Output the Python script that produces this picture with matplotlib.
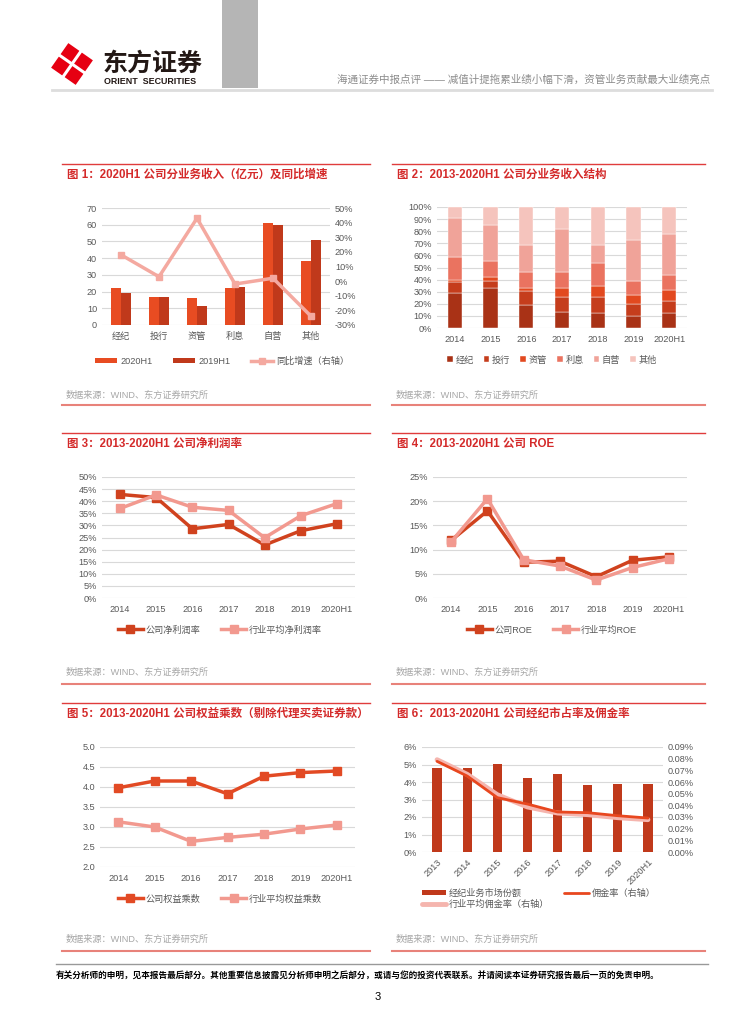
import matplotlib
matplotlib.use('Agg')
import matplotlib.pyplot as plt
import numpy as np
from matplotlib.patches import Rectangle, Polygon
from matplotlib.lines import Line2D
from matplotlib.ticker import PercentFormatter, FormatStrFormatter

plt.rcParams['font.family'] = ['Liberation Sans', 'Noto Sans CJK SC', 'DejaVu Sans']
plt.rcParams['axes.unicode_minus'] = False

W, H = 755, 1024

# ---- 数据 ----
biz = ['经纪', '投行', '资管', '利息', '自营', '其他']
rev_2020h1 = [22, 17, 16, 22, 61, 38.5]
rev_2019h1 = [19, 16.5, 11.5, 22.5, 60, 51]
yoy = [18, 3, 43, -2, 2, -24]

years = ['2014', '2015', '2016', '2017', '2018', '2019', '2020H1']
share_jingji = [29, 33, 19, 13.5, 12, 10, 12]
share_touhang = [9, 6, 11.5, 12, 14, 10, 10]
share_ziguan = [2, 3.5, 2.5, 7.5, 8.5, 7, 9]
share_lixi = [18.5, 12.5, 13.5, 13, 19.5, 12, 12.5]
share_ziying = [32.5, 30, 22.5, 35.5, 15, 34, 34.5]
share_qita = [9, 15, 31, 18.5, 31, 27, 22]

margin_co = [42.8, 41.5, 28.6, 30.4, 21.9, 27.8, 30.7]
margin_ind = [37.0, 42.6, 37.5, 36.2, 24.9, 34.0, 39.0]

roe_co = [11.9, 18.0, 7.4, 7.6, 4.4, 7.8, 8.5]
roe_ind = [11.6, 20.5, 7.9, 6.6, 3.7, 6.3, 8.1]

lev_co = [3.98, 4.15, 4.15, 3.83, 4.27, 4.36, 4.40]
lev_ind = [3.13, 3.00, 2.64, 2.74, 2.82, 2.95, 3.05]

years6 = ['2013', '2014', '2015', '2016', '2017', '2018', '2019', '2020H1']
mkt_share = [4.8, 4.8, 5.05, 4.25, 4.44, 3.85, 3.88, 3.87]
comm_co = [0.0777, 0.0651, 0.0466, 0.0411, 0.0343, 0.0337, 0.0311, 0.0291]
comm_ind = [0.0791, 0.0666, 0.0491, 0.0386, 0.0334, 0.0320, 0.0294, 0.0277]

RED_TITLE = '#D42A2A'
C_DARK = '#D0421E'
C_LIGHT = '#F2998F'
TICK_C = '#595959'
FS = 6.6


def rect(l, t, r, b):
    return [l / W, 1 - b / H, (r - l) / W, (b - t) / H]


def hline(x0, x1, y, color, lw):
    fig.add_artist(Line2D([x0 / W, x1 / W], [1 - y / H, 1 - y / H],
                          transform=fig.transFigure, color=color, lw=lw))


def style(ax):
    for s in ax.spines.values():
        s.set_visible(False)
    ax.yaxis.grid(True, color='#D9D9D9', lw=0.8)
    ax.set_axisbelow(True)
    ax.tick_params(length=0, labelsize=FS, colors=TICK_C)


def panel(x0, x1, top, title, src_y, bottom):
    hline(x0, x1, top, '#E03C3C', 1.0)
    fig.text((x0 + 5) / W, 1 - (top + 11) / H, title, fontsize=8.3, fontweight='bold',
             color=RED_TITLE, va='center')
    fig.text((x0 + 4) / W, 1 - src_y / H, '数据来源：WIND、东方证券研究所', fontsize=6.6,
             color='#A6A6A6', va='center')
    hline(x0, x1, bottom, '#E8827A', 1.5)


def legend(ax, handles, labels, cx, cy, ncol, **kw):
    ax.legend(handles, labels, loc='center', bbox_to_anchor=(cx / W, 1 - cy / H),
              bbox_transform=fig.transFigure, ncol=ncol, frameon=False,
              fontsize=FS, labelcolor=TICK_C, **kw)


fig = plt.figure(figsize=(W / 100, H / 100), dpi=100)

# ---- 页眉 ----
fig.add_artist(Rectangle((222 / W, 1 - 88 / H), 36 / W, 88 / H, transform=fig.transFigure,
                         color='#B5B5B5', lw=0))
lax = fig.add_axes(rect(50, 40, 94, 88))
lax.set_xlim(0, 44)
lax.set_ylim(48, 0)
lax.axis('off')
ang = np.deg2rad(35)
cx0, cy0, s = 22, 24, 15
rot = np.array([[np.cos(ang), -np.sin(ang)], [np.sin(ang), np.cos(ang)]])
sq = np.array([[-s, -s], [s, -s], [s, s], [-s, s]]) @ rot.T + [cx0, cy0]
lax.add_patch(Polygon(sq, color='#E60012', lw=0))
for d in ([s + 2, 0], [0, s + 2]):
    p = np.array([[-d[0], -d[1]], [d[0], d[1]]]) @ rot.T + [cx0, cy0]
    lax.plot(p[:, 0], p[:, 1], color='white', lw=2.2)
fig.text(103 / W, 1 - 64 / H, '东方证券', fontsize=18, fontweight='bold', color='#231815',
         va='center', family=['Noto Sans CJK SC'])
fig.text(104 / W, 1 - 81 / H, 'ORIENT  SECURITIES', fontsize=6.4, fontweight='bold',
         color='#231815', va='center')
fig.text(710 / W, 1 - 80 / H, '海通证券中报点评 —— 减值计提拖累业绩小幅下滑，资管业务贡献最大业绩亮点',
         fontsize=7.6, color='#8C8C8C', ha='right', va='center')
hline(52, 712, 90, '#DDDDDD', 2)

# ---- 面板框 ----
panel(62, 370, 164, '图 1：2020H1 公司分业务收入（亿元）及同比增速', 395, 405)
panel(392, 705, 164, '图 2：2013-2020H1 公司分业务收入结构', 395, 405)
panel(62, 370, 433, '图 3：2013-2020H1 公司净利润率', 672, 684)
panel(392, 705, 433, '图 4：2013-2020H1 公司 ROE', 672, 684)
panel(62, 370, 703, '图 5：2013-2020H1 公司权益乘数（剔除代理买卖证券款）', 939, 951)
panel(392, 705, 703, '图 6：2013-2020H1 公司经纪市占率及佣金率', 939, 951)

# ---- 图1 ----
ax1 = fig.add_axes(rect(102, 208, 330, 325))
style(ax1)
x = np.arange(len(biz))
bw = 0.27
b1 = ax1.bar(x - bw / 2, rev_2020h1, bw, color='#E84C22')
b2 = ax1.bar(x + bw / 2, rev_2019h1, bw, color='#C0391B')
ax1.set_xlim(-0.5, len(biz) - 0.5)
ax1.set_ylim(0, 70)
ax1.set_yticks(range(0, 71, 10))
ax1.set_xticks(x, biz)
ax1.tick_params(axis='x', pad=5)
ax1b = ax1.twinx()
for sp in ax1b.spines.values():
    sp.set_visible(False)
ax1b.tick_params(length=0, labelsize=FS, colors=TICK_C)
l1, = ax1b.plot(x, yoy, color='#F4A9A0', lw=2.5, marker='s', ms=5)
ax1b.set_ylim(-30, 50)
ax1b.set_yticks(range(-30, 51, 10))
ax1b.yaxis.set_major_formatter(PercentFormatter(decimals=0))
legend(ax1b, [b1, b2, l1], ['2020H1', '2019H1', '同比增速（右轴）'], 222, 361, 3,
       handlelength=2.4, handleheight=0.5, columnspacing=2.2, handletextpad=0.4)

# ---- 图2 ----
ax2 = fig.add_axes(rect(437, 207, 687, 328))
style(ax2)
xs = np.arange(len(years))
stack = [share_jingji, share_touhang, share_ziguan, share_lixi, share_ziying, share_qita]
stack_colors = ['#A93216', '#C53D1C', '#E2491F', '#EA7360', '#F0A399', '#F5C4BD']
bottom = np.zeros(len(years))
hs = []
for vals, c in zip(stack, stack_colors):
    h = ax2.bar(xs, vals, 0.4, bottom=bottom, color=c, edgecolor='white', lw=0.3)
    hs.append(h)
    bottom += np.array(vals)
ax2.set_xlim(-0.5, len(years) - 0.5)
ax2.set_ylim(0, 100)
ax2.set_yticks(range(0, 101, 10))
ax2.yaxis.set_major_formatter(PercentFormatter(decimals=0))
ax2.set_xticks(xs, years)
ax2.tick_params(axis='x', pad=5)
legend(ax2, hs, biz, 552, 360, 6, handlelength=0.6, handleheight=0.6,
       handletextpad=0.3, columnspacing=1.1)

# ---- 图3 ----
ax3 = fig.add_axes(rect(102, 477, 355, 598))
style(ax3)
la, = ax3.plot(xs, margin_co, color=C_DARK, lw=2.5, marker='s', ms=5.5)
lb, = ax3.plot(xs, margin_ind, color=C_LIGHT, lw=2.5, marker='s', ms=5.5)
ax3.set_xlim(-0.5, len(years) - 0.5)
ax3.set_ylim(0, 50)
ax3.set_yticks(range(0, 51, 5))
ax3.yaxis.set_major_formatter(PercentFormatter(decimals=0))
ax3.set_xticks(xs, years)
ax3.tick_params(axis='x', pad=5)
legend(ax3, [la, lb], ['公司净利润率', '行业平均净利润率'], 220, 630, 2,
       handlelength=2.7, columnspacing=2.3, handletextpad=0.3)

# ---- 图4 ----
ax4 = fig.add_axes(rect(433, 477, 687, 598))
style(ax4)
la, = ax4.plot(xs, roe_co, color=C_DARK, lw=2.5, marker='s', ms=5.5)
lb, = ax4.plot(xs, roe_ind, color=C_LIGHT, lw=2.5, marker='s', ms=5.5)
ax4.set_xlim(-0.5, len(years) - 0.5)
ax4.set_ylim(0, 25)
ax4.set_yticks(range(0, 26, 5))
ax4.yaxis.set_major_formatter(PercentFormatter(decimals=0))
ax4.set_xticks(xs, years)
ax4.tick_params(axis='x', pad=5)
legend(ax4, [la, lb], ['公司ROE', '行业平均ROE'], 552, 630, 2,
       handlelength=2.7, columnspacing=2.3, handletextpad=0.3)

# ---- 图5 ----
ax5 = fig.add_axes(rect(100, 747, 355, 867))
style(ax5)
la, = ax5.plot(xs, lev_co, color='#E24A24', lw=2.5, marker='s', ms=5.5)
lb, = ax5.plot(xs, lev_ind, color=C_LIGHT, lw=2.5, marker='s', ms=5.5)
ax5.set_xlim(-0.5, len(years) - 0.5)
ax5.set_ylim(2.0, 5.0)
ax5.set_yticks(np.arange(2.0, 5.01, 0.5))
ax5.yaxis.set_major_formatter(FormatStrFormatter('%.1f'))
ax5.set_xticks(xs, years)
ax5.tick_params(axis='x', pad=5)
legend(ax5, [la, lb], ['公司权益乘数', '行业平均权益乘数'], 220, 899, 2,
       handlelength=2.7, columnspacing=2.3, handletextpad=0.3)

# ---- 图6 ----
ax6 = fig.add_axes(rect(422, 747, 663, 852))
style(ax6)
x6 = np.arange(len(years6))
bb = ax6.bar(x6, mkt_share, 0.31, color='#C0391B')
ax6.set_xlim(-0.5, len(years6) - 0.5)
ax6.set_ylim(0, 6)
ax6.set_yticks(range(0, 7))
ax6.yaxis.set_major_formatter(PercentFormatter(decimals=0))
ax6.set_xticks(x6, years6, rotation=45, ha='right', rotation_mode='anchor')
ax6.tick_params(axis='x', pad=4)
ax6b = ax6.twinx()
for sp in ax6b.spines.values():
    sp.set_visible(False)
ax6b.tick_params(length=0, labelsize=FS, colors=TICK_C)
lind, = ax6b.plot(x6, comm_ind, color='#F5B5AE', lw=3.5, solid_capstyle='round')
lco, = ax6b.plot(x6, comm_co, color='#E8471F', lw=2.0, solid_capstyle='round')
ax6b.set_ylim(0, 0.09)
ax6b.set_yticks(np.arange(0, 0.0901, 0.01))
ax6b.yaxis.set_major_formatter(PercentFormatter(xmax=100, decimals=2))
ax6b.legend([bb, lind, lco], ['经纪业务市场份额', '行业平均佣金率（右轴）', '佣金率（右轴）'],
            loc='upper left', bbox_to_anchor=(417 / W, 1 - 884 / H),
            bbox_transform=fig.transFigure, ncol=2, frameon=False, fontsize=FS,
            labelcolor=TICK_C, handlelength=2.7, handleheight=0.6, handletextpad=0.3,
            columnspacing=1.6, labelspacing=0.2, borderpad=0)

# ---- 页脚 ----
hline(56, 708, 964, '#999999', 1.0)
fig.text(56 / W, 1 - 976 / H,
         '有关分析师的申明，见本报告最后部分。其他重要信息披露见分析师申明之后部分，或请与您的投资代表联系。并请阅读本证券研究报告最后一页的免责申明。',
         fontsize=6.2, fontweight='bold', color='black', va='center')
fig.text(378 / W, 1 - 997 / H, '3', fontsize=8, color='black', ha='center', va='center')

fig.savefig('out.png', dpi=100)
